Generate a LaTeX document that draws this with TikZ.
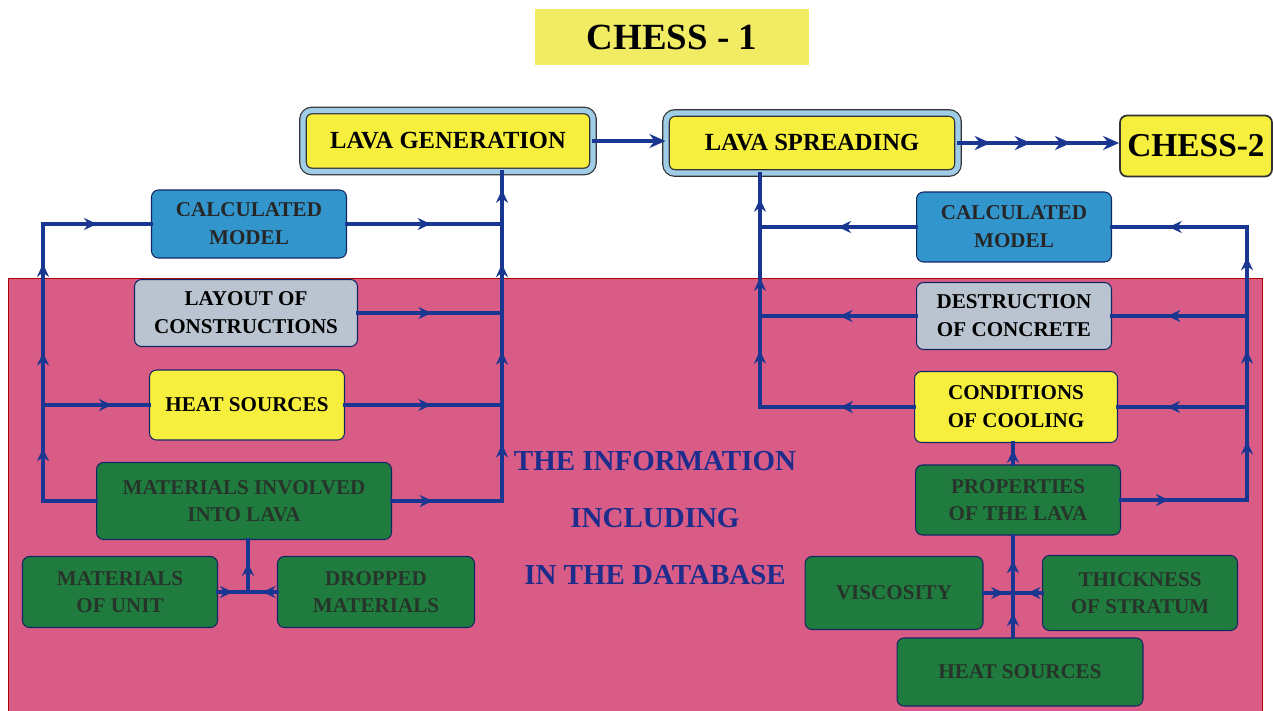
\documentclass[tikz,border=0pt]{standalone}
\usepackage{fontspec}
\setmainfont{Liberation Serif}
\usetikzlibrary{arrows.meta, positioning, calc, decorations.markings}
\definecolor{lineblue}{RGB}{25,55,145}
\definecolor{boxyellow}{RGB}{247,239,62}
\definecolor{titleyellow}{RGB}{242,236,100}
\definecolor{modelblue}{RGB}{50,150,205}
\definecolor{boxgray}{RGB}{186,196,208}
\definecolor{boxgreen}{RGB}{32,124,62}
\definecolor{dbpink}{RGB}{216,92,134}
\definecolor{rimblue}{RGB}{160,205,230}
\definecolor{greentext}{RGB}{38,52,42}
\definecolor{infoblue}{RGB}{30,45,140}
\tikzstyle{base} = [rectangle, rounded corners=4pt, draw=lineblue!70!black, line width=0.6pt,
    align=center, font=\fontsize{12}{16}\selectfont\bfseries, inner sep=2pt]
\tikzstyle{yellowbox} = [base, fill=boxyellow]
\tikzstyle{graybox} = [base, fill=boxgray]
\tikzstyle{modelbox} = [base, fill=modelblue, text=black!85]
\tikzstyle{datbox} = [base, fill=boxgreen, text=greentext, font=\fontsize{12}{15}\selectfont\bfseries]
\tikzstyle{mainbox} = [rectangle, rounded corners=5pt, draw=black!80, double=rimblue, double distance=3pt,
    line width=0.7pt, fill=boxyellow, font=\fontsize{14}{16}\selectfont\bfseries]
\tikzstyle{link} = [line width=2.2pt, draw=lineblue, line cap=rect]
\tikzstyle{arrow} = [link, -{Stealth[length=3.2mm, width=2.8mm]}]
\tikzset{midarrow/.style={postaction={decorate, decoration={markings,
    mark=at position #1 with {\arrow{Stealth[length=2.6mm, width=2.4mm]}}}}}}
\tikzset{bigmid/.style={postaction={decorate, decoration={markings,
    mark=at position #1 with {\arrow{Stealth[length=3.2mm, width=2.8mm]}}}}}}

\begin{document}
\begin{tikzpicture}[x=0.02cm, y=-0.02cm]
\useasboundingbox (0,0) rectangle (1273,710);
% database area
\filldraw[fill=dbpink, draw=red!70!black, line width=0.5pt] (8,712) -- (8,278) -- (1262,278) -- (1262,712);

\node (title) [rectangle, fill=titleyellow, minimum width=5.5cm, minimum height=1.14cm,
    font=\fontsize{21}{24}\selectfont\bfseries] at (672,37) {CHESS - 1};
\node (lg) [mainbox, minimum width=5.8cm, minimum height=1.22cm] at (448,141) {LAVA GENERATION};
\node (ls) [mainbox, minimum width=5.84cm, minimum height=1.2cm] at (812,143) {LAVA SPREADING};
\node (chesstwo) [yellowbox, draw=black!80, line width=1pt, minimum width=3.04cm, minimum height=1.22cm,
    font=\fontsize{19}{22}\selectfont\bfseries] at (1196,146) {CHESS-2};

% left branch
\node (modelL) [modelbox, minimum width=3.9cm, minimum height=1.36cm] at (249,224) {CALCULATED\\MODEL};
\node (layout) [graybox, minimum width=4.46cm, minimum height=1.34cm] at (246,313) {LAYOUT OF\\CONSTRUCTIONS};
\node (heatL) [yellowbox, minimum width=3.9cm, minimum height=1.4cm] at (247,405) {HEAT SOURCES};
\node (involved) [datbox, minimum width=5.9cm, minimum height=1.54cm] at (244,501) {MATERIALS INVOLVED\\INTO LAVA};
\node (unit) [datbox, minimum width=3.9cm, minimum height=1.42cm] at (120,592) {MATERIALS\\OF UNIT};
\node (dropped) [datbox, minimum width=3.94cm, minimum height=1.42cm] at (376,592) {DROPPED\\MATERIALS};

% right branch
\node (modelR) [modelbox, minimum width=3.9cm, minimum height=1.4cm] at (1014,227) {CALCULATED\\MODEL};
\node (concrete) [graybox, minimum width=3.9cm, minimum height=1.34cm] at (1014,316) {DESTRUCTION\\OF CONCRETE};
\node (cooling) [yellowbox, minimum width=4.06cm, minimum height=1.42cm] at (1016,407) {CONDITIONS\\OF COOLING};
\node (props) [datbox, minimum width=4.1cm, minimum height=1.4cm] at (1018,500) {PROPERTIES\\OF THE LAVA};
\node (visc) [datbox, minimum width=3.56cm, minimum height=1.46cm] at (894,593) {VISCOSITY};
\node (thick) [datbox, minimum width=3.9cm, minimum height=1.5cm] at (1140,593) {THICKNESS\\OF STRATUM};
\node (heatR) [datbox, minimum width=4.92cm, minimum height=1.36cm] at (1020,672) {HEAT SOURCES};

\node (info) [text=infoblue, align=center, font=\fontsize{16.5}{32.5}\selectfont\bfseries] at (655,518)
    {THE INFORMATION\\INCLUDING\\IN THE DATABASE};

% buses
\coordinate (lbus) at (43,0);
\coordinate (rbus) at (502,0);
\coordinate (sbus) at (760,0);
\coordinate (ebus) at (1247,0);
\coordinate (jl) at (248,592);
\coordinate (jr) at (1013,593);

\draw[arrow] (lg.east) -- (lg.east -| ls.west);
\draw[arrow, bigmid=0.2, bigmid=0.45, bigmid=0.7] (ls.east) -- (ls.east -| chesstwo.west);

\draw[link] (involved.west) -- (involved.west -| lbus);
\draw[link, midarrow=0.55] (involved.west -| lbus) -- (heatL.west -| lbus);
\draw[link, midarrow=0.29, midarrow=0.78] (heatL.west -| lbus) -- (modelL.west -| lbus);
\draw[link, midarrow=0.5] (modelL.west -| lbus) -- (modelL.west);
\draw[link, midarrow=0.65] (heatL.west -| lbus) -- (heatL.west);

\draw[link, midarrow=0.37] (involved.east) -- (involved.east -| rbus);
\draw[link, midarrow=0.59] (involved.east -| rbus) -- (heatL.east -| rbus);
\draw[link, midarrow=0.58] (heatL.east -| rbus) -- (layout.east -| rbus);
\draw[link, midarrow=0.55] (layout.east -| rbus) -- (modelL.east -| rbus);
\draw[link, midarrow=0.66] (modelL.east -| rbus) -- (rbus |- lg.south);
\draw[link, midarrow=0.54] (modelL.east) -- (modelL.east -| rbus);
\draw[link, midarrow=0.51] (layout.east) -- (layout.east -| rbus);
\draw[link, midarrow=0.55] (heatL.east) -- (heatL.east -| rbus);

\draw[link, midarrow=0.5] (unit.east) -- (unit.east -| jl);
\draw[link, midarrow=0.5] (dropped.west) -- (dropped.west -| jl);
\draw[link, midarrow=0.56] (jl) -- (jl |- involved.south);

\draw[link, midarrow=0.48] (cooling.west) -- (cooling.west -| sbus);
\draw[link, midarrow=0.49] (concrete.west) -- (concrete.west -| sbus);
\draw[link, midarrow=0.5] (modelR.west) -- (modelR.west -| sbus);
\draw[link, midarrow=0.62] (cooling.west -| sbus) -- (concrete.west -| sbus);
\draw[link, midarrow=0.43] (concrete.west -| sbus) -- (modelR.west -| sbus);
\draw[link, midarrow=0.53] (modelR.west -| sbus) -- (sbus |- ls.south);

\draw[link, midarrow=0.38] (props.east) -- (props.east -| ebus);
\draw[link, midarrow=0.63] (props.east -| ebus) -- (cooling.east -| ebus);
\draw[link, midarrow=0.62] (cooling.east -| ebus) -- (concrete.east -| ebus);
\draw[link, midarrow=0.66] (concrete.east -| ebus) -- (modelR.east -| ebus);
\draw[link, midarrow=0.62] (cooling.east -| ebus) -- (cooling.east);
\draw[link, midarrow=0.59] (concrete.east -| ebus) -- (concrete.east);
\draw[link, midarrow=0.58] (modelR.east -| ebus) -- (modelR.east);

\draw[link, midarrow=0.68] (jr |- props.north) -- (jr |- cooling.south);
\draw[link, midarrow=0.7] (visc.east) -- (jr);
\draw[link, midarrow=0.5] (thick.west) -- (jr);
\draw[link, midarrow=0.55] (jr |- heatR.north) -- (jr);
\draw[link, midarrow=0.57] (jr) -- (jr |- props.south);
\end{tikzpicture}
\end{document}
